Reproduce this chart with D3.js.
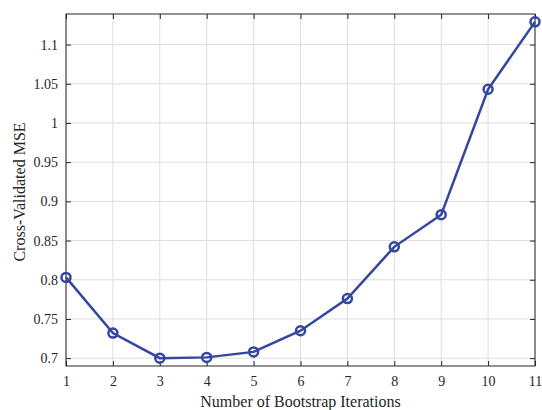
<!DOCTYPE html>
<html>
<head>
<meta charset="utf-8">
<script src="https://cdn.jsdelivr.net/npm/d3@7"></script>
<style>
body { margin: 0; background: #fff; }
</style>
</head>
<body>
<script>
const WIDTH = 542
const HEIGHT = 410
const MARGIN = { left: 66, right: 7, top: 14, bottom: 44 }
const FONT = "'Liberation Serif', 'Times New Roman', Times, 'DejaVu Serif', serif"

const iterations = [1, 2, 3, 4, 5, 6, 7, 8, 9, 10, 11]
const mse = [0.803, 0.732, 0.700, 0.701, 0.708, 0.735, 0.776, 0.842, 0.883, 1.043, 1.129]
const yTicks = [0.7, 0.75, 0.8, 0.85, 0.9, 0.95, 1, 1.05, 1.1]

const svg = d3.select('body')
    .append('svg')
    .attr('width', WIDTH)
    .attr('height', HEIGHT)
    .attr('font-family', FONT)

const innerW = WIDTH - MARGIN.left - MARGIN.right
const innerH = HEIGHT - MARGIN.top - MARGIN.bottom

const xScale = d3.scaleLinear()
    .domain([1, 11])
    .range([MARGIN.left, MARGIN.left + innerW])

const yScale = d3.scaleLinear()
    .domain([0.69, 1.139])
    .range([MARGIN.top + innerH, MARGIN.top])

// grid
const grid = svg.append('g')
grid.selectAll('.gx')
    .data(iterations)
    .enter()
    .append('line')
    .attr('x1', d => xScale(d))
    .attr('x2', d => xScale(d))
    .attr('y1', MARGIN.top)
    .attr('y2', MARGIN.top + innerH)
    .attr('stroke', '#dedede')
    .attr('stroke-width', 1)
grid.selectAll('.gy')
    .data(yTicks)
    .enter()
    .append('line')
    .attr('x1', MARGIN.left)
    .attr('x2', MARGIN.left + innerW)
    .attr('y1', d => yScale(d))
    .attr('y2', d => yScale(d))
    .attr('stroke', '#dedede')
    .attr('stroke-width', 1)

// axes
const xAxis = d3.axisBottom(xScale).tickValues(iterations).tickSize(-5).tickPadding(10).tickFormat(d3.format('d'))
const xAxisTop = d3.axisTop(xScale).tickValues(iterations).tickSize(-5).tickFormat('')
const yAxis = d3.axisLeft(yScale).tickValues(yTicks).tickSize(-5).tickPadding(8).tickFormat(d => `${d}`)
const yAxisRight = d3.axisRight(yScale).tickValues(yTicks).tickSize(-5).tickFormat('')

const styleAxis = g => {
    g.attr('font-family', FONT).attr('font-size', 14)
    g.select('.domain').remove()
    g.selectAll('line').attr('stroke', '#262626')
    g.selectAll('text').attr('fill', '#262626')
}

svg.append('g').attr('transform', `translate(0, ${MARGIN.top + innerH})`).call(xAxis).call(styleAxis)
svg.append('g').attr('transform', `translate(0, ${MARGIN.top})`).call(xAxisTop).call(styleAxis)
svg.append('g').attr('transform', `translate(${MARGIN.left}, 0)`).call(yAxis).call(styleAxis)
svg.append('g').attr('transform', `translate(${MARGIN.left + innerW}, 0)`).call(yAxisRight).call(styleAxis)

svg.append('rect')
    .attr('x', MARGIN.left)
    .attr('y', MARGIN.top)
    .attr('width', innerW)
    .attr('height', innerH)
    .attr('fill', 'none')
    .attr('stroke', '#262626')
    .attr('stroke-width', 1)

// line
const line = d3.line()
    .x((d, i) => xScale(iterations[i]))
    .y(d => yScale(d))

svg.append('path')
    .datum(mse)
    .attr('d', line)
    .attr('fill', 'none')
    .attr('stroke', '#3446a0')
    .attr('stroke-width', 2.5)

svg.selectAll('circle.pt')
    .data(mse)
    .enter()
    .append('circle')
    .attr('class', 'pt')
    .attr('cx', (d, i) => xScale(iterations[i]))
    .attr('cy', d => yScale(d))
    .attr('r', 4.5)
    .attr('fill', 'none')
    .attr('stroke', '#3446a0')
    .attr('stroke-width', 2.5)

// labels
svg.append('text')
    .text('Number of Bootstrap Iterations')
    .attr('x', MARGIN.left + innerW / 2)
    .attr('y', 407)
    .attr('text-anchor', 'middle')
    .attr('fill', '#262626')
    .attr('font-size', 16)

svg.append('text')
    .text('Cross-Validated MSE')
    .attr('transform', `translate(25, 192) rotate(-90)`)
    .attr('text-anchor', 'middle')
    .attr('fill', '#262626')
    .attr('font-size', 16)
</script>
</body>
</html>
